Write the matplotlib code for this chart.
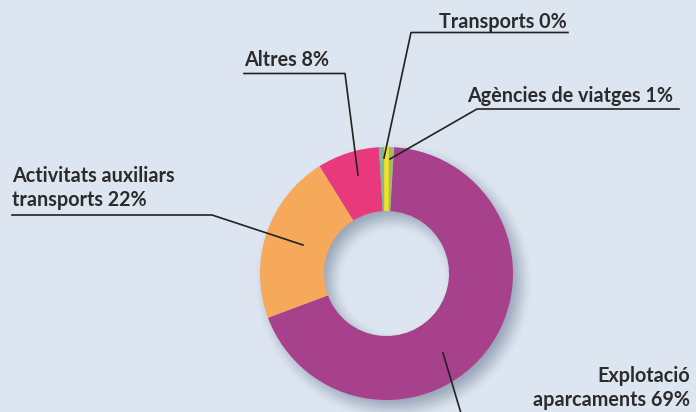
import numpy as np
import matplotlib.pyplot as plt

# data
labels = ["Explotació\naparcaments 69%", "Activitats auxiliars\ntransports 22%",
          "Altres 8%", "Transports 0%", "Agències de viatges 1%"]
shares = [68.3, 21.8, 7.9, 0.95, 0.95]
colors = ["#a8418b", "#f6a85b", "#e9397d", "#7fb69e", "#a6b96e"]
bg = "#dde5f0"

W, H = 696, 412
cx, cy, r_out, r_in = 386.5, 273.5, 126.5, 62.5

fig = plt.figure(figsize=(W / 100, H / 100), dpi=100, facecolor=bg)

# soft drop shadow of the ring, drawn straight onto the figure
X, Y = np.meshgrid(np.arange(W) + 0.5, np.arange(H) + 0.5)
d = np.hypot(X - cx - 7, Y - cy - 8)
blur = 14.0
def ramp(v, lo, hi):
    t = np.clip((v - lo) / (hi - lo), 0, 1)
    return t * t * (3 - 2 * t)
a = ramp(d, r_in - blur, r_in + blur) * (1 - ramp(d, r_out - blur, r_out + blur))
shadow = np.zeros((H, W, 4))
shadow[..., 0] = 0.52
shadow[..., 1] = 0.58
shadow[..., 2] = 0.66
shadow[..., 3] = a * 0.8
fig.figimage(shadow, 0, 0, origin="upper", zorder=0)

ax = fig.add_axes([0, 0, 1, 1])
ax.set_zorder(2)
ax.patch.set_alpha(0)

wedges, _ = ax.pie(shares, colors=colors, center=(cx, cy), radius=r_out,
                   startangle=-86.6, counterclock=True,
                   wedgeprops=dict(width=r_out - r_in, linewidth=0),
                   frame=True)
ax.set_xlim(0, W)
ax.set_ylim(H, 0)
ax.set_aspect("equal")
ax.axis("off")

# Transports sits as a thin yellow line between the two small slices
th = np.deg2rad(wedges[3].theta2)
ax.plot([cx + r_in * np.cos(th), cx + r_out * np.cos(th)],
        [cy + r_in * np.sin(th), cy + r_out * np.sin(th)],
        color="#f5e31a", lw=3.2, solid_capstyle="butt", zorder=3)

txt = dict(family="Lato", weight="bold", fontsize=14.2, color="#2b2b2b",
           zorder=5)
lc = dict(color="#222222", lw=1.2, zorder=4)

# Transports 0%
ax.text(567, 28, labels[3], ha="right", va="baseline", **txt)
ax.plot([568, 411, 384], [32.5, 32.5, 158], **lc)

# Altres 8%
ax.text(244, 66, labels[2], ha="left", va="baseline", **txt)
ax.plot([244, 345, 358], [73.5, 73.5, 175], **lc)

# Agències de viatges 1%
ax.text(673, 101.5, labels[4], ha="right", va="baseline", **txt)
ax.plot([679, 477, 390], [109, 109, 159], **lc)

# Activitats auxiliars transports 22%
l1, l2 = labels[1].split("\n")
ax.text(12.5, 181.5, l1, ha="left", va="baseline", **txt)
ax.text(12.5, 206, l2, ha="left", va="baseline", **txt)
ax.plot([12, 212, 303], [215, 215, 245], **lc)

# Explotació aparcaments 69%
l1, l2 = labels[0].split("\n")
ax.text(690, 382.5, l1, ha="right", va="baseline", **txt)
ax.text(690, 405.5, l2, ha="right", va="baseline", **txt)
ax.plot([443, 463], [353, 420], **lc)

fig.savefig("out.png", dpi=100, facecolor=bg)
